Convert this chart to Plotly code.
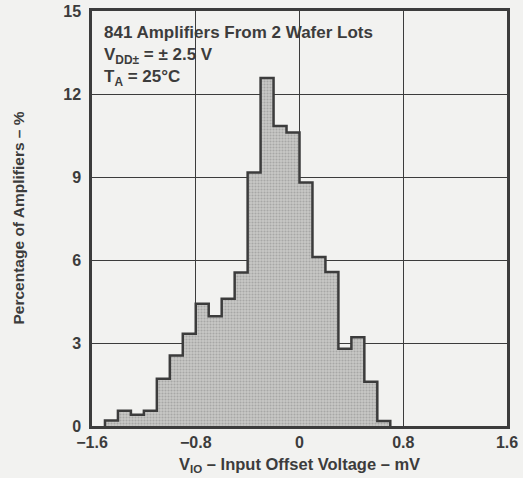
import plotly.graph_objects as go

# bin left edges (mV), width 0.1
bin_left = [-1.5, -1.4, -1.3, -1.2, -1.1, -1.0, -0.9, -0.8, -0.7, -0.6, -0.5,
            -0.4, -0.3, -0.2, -0.1, 0.0, 0.1, 0.2, 0.3, 0.4, 0.5, 0.6]
pct = [0.2, 0.55, 0.41, 0.55, 1.71, 2.55, 3.33, 4.42, 3.97, 4.6, 5.55,
       9.16, 12.58, 10.84, 10.61, 8.8, 6.11, 5.57, 2.79, 3.21, 1.6, 0.18]
bin_width = 0.1
x_ticks = [-1.6, -0.8, 0, 0.8, 1.6]
x_tick_labels = ["\u22121.6", "\u22120.8", "0", "0.8", "1.6"]
y_ticks = [0, 3, 6, 9, 12, 15]

ink = "#3c3c3c"
fam = "Liberation Sans, Arial, sans-serif"
tickfont = dict(family=fam, size=16, color=ink, weight="bold")

centers = [b + bin_width / 2 for b in bin_left]
edges = bin_left + [bin_left[-1] + bin_width]
step_x = edges + [edges[-1]]
step_y = [0] + pct + [0]

fig = go.Figure()
fig.add_trace(go.Bar(
    x=centers, y=pct, width=bin_width,
    marker=dict(color="#bdbdbb", line=dict(width=0),
                pattern=dict(shape=".", fgcolor="#858585", bgcolor="#c8c8c6",
                             size=3, solidity=0.4)),
    hoverinfo="skip", showlegend=False,
))
fig.add_trace(go.Scatter(
    x=step_x, y=step_y, mode="lines", line=dict(shape="vh", color=ink, width=2.5),
    hoverinfo="skip", showlegend=False,
))

PW, PH = 415, 415  # plot area size in px
fig.update_layout(
    width=523, height=478,
    margin=dict(l=92, r=16, t=11, b=52, autoexpand=False),
    paper_bgcolor="#f2f2f0", plot_bgcolor="#f2f2f0",
    font=tickfont, bargap=0,
    xaxis=dict(range=[-1.6, 1.6], tickvals=x_ticks, ticktext=x_tick_labels,
               showgrid=True, gridcolor=ink, gridwidth=1.3, zeroline=False,
               showline=True, linecolor=ink, linewidth=2.5, mirror=True,
               ticks="", layer="above traces", tickfont=tickfont, automargin=False,
               ticklabeloverflow="allow"),
    yaxis=dict(range=[0, 15], tickvals=y_ticks,
               showgrid=True, gridcolor=ink, gridwidth=1.3, zeroline=False,
               showline=True, linecolor=ink, linewidth=2.5, mirror=True,
               ticks="", layer="above traces", tickfont=tickfont, ticklabelstandoff=5,
               automargin=False, ticklabeloverflow="allow"),
)

# axis titles
fig.add_annotation(
    xref="paper", yref="paper", x=0.5, y=-39 / PH, xanchor="center", yanchor="middle",
    showarrow=False, text="V<sub>IO</sub> \u2013 Input Offset Voltage \u2013 mV",
    font=dict(family=fam, size=16.5, color=ink, weight="bold"),
)
fig.add_annotation(
    xref="paper", yref="paper", x=-74 / PW, y=0.5, xanchor="center", yanchor="middle",
    showarrow=False, textangle=-90, text="Percentage of Amplifiers \u2013 %",
    font=dict(family=fam, size=15.5, color=ink, weight="bold"),
)

fig.add_annotation(
    xref="paper", yref="paper", x=0.023, y=0.975, xanchor="left", yanchor="top",
    align="left", showarrow=False,
    text="841 Amplifiers From 2 Wafer Lots<br>V<sub>DD\u00b1</sub> = \u00b1 2.5 V<br>T<sub>A</sub> = 25\u00b0C",
    font=dict(family=fam, size=17, color=ink, weight="bold"),
)

# hide the mode bar and remove the browser's default 8px page margin
fig.write_html("out.html", config={"displayModeBar": False},
               post_script="document.body.style.margin='0';")
